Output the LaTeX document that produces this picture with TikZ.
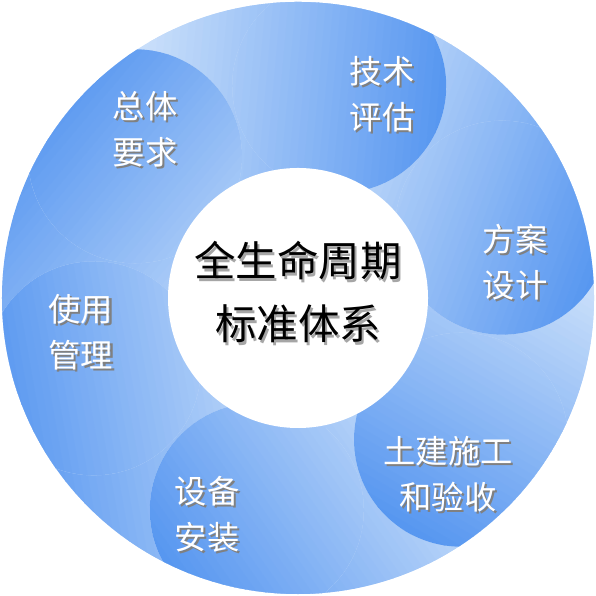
\documentclass[tikz,border=0pt]{standalone}
\usepackage{fontspec}
\newfontfamily\cjk{Noto Sans CJK SC}
\definecolor{swirldark}{RGB}{86,150,240}
\definecolor{swirllight}{RGB}{200,222,250}
\newcommand\shadowed[2]{\makebox[0pt][l]{\kern0.6pt\raisebox{-0.6pt}{\textcolor{#1}{#2}}}#2}
% strips of colour along direction #1, dark end at u=#2
\newcommand\swirlstrips[2]{%
  \begin{scope}[rotate=#1]
    \fill[swirllight] (-7,-7) rectangle (7,7);
    \foreach \k in {0,...,39}{
      \pgfmathsetmacro\ua{#2-3+\k*0.075}
      \pgfmathsetmacro\pct{(\k+0.5)*2.5}
      \fill[swirldark!\pct!swirllight] (\ua,-7) rectangle ({\ua+0.08},7);
    }
    \fill[swirldark] ({#2},-7) rectangle (7,7);
  \end{scope}}
\tikzset{
  hub/.style={circle,fill=white,minimum size=2.6cm,inner sep=0pt},
  title/.style={align=center,font=\cjk\fontsize{11.8}{17.9}\selectfont},
  tag/.style={align=center,text=white,font=\cjk\fontsize{9.2}{13.1}\selectfont}
}
\begin{document}
\begin{tikzpicture}
  \useasboundingbox (-2.98,-2.98) rectangle (2.98,2.98);
  \begin{scope}
    \clip (0,0) circle (2.96);
    % tails
    \foreach \th/\ph in {19/-20,79/-5,139/140,199/190,259/215,319/240}{
      \begin{scope}
        \clip ({\th-4}:1.1) arc[start angle=\th-4,end angle=\th+60,radius=1.1]
          -- ({\th+60}:3.1) arc[start angle=\th+60,end angle=\th-4,radius=3.1] -- cycle;
        \swirlstrips{\ph}{2.16*cos(\th-\ph)+1.07}
      \end{scope}
    }
    % heads
    \foreach \th/\ph in {19/-20,79/-5,139/140,199/190,259/215,319/240}{
      \begin{scope}
        \clip (\th:2.16) circle (1.07);
        \swirlstrips{\ph}{2.16*cos(\th-\ph)+1.07}
      \end{scope}
    }
  \end{scope}
  \node[hub] (core) at (0,0) {};
  \node[title] (system) at (0,0.045) {\shadowed{black!35}{全生命周期}\\\shadowed{black!35}{标准体系}};
  \node[tag] (general) at (-1.53,1.68) {\shadowed{black!50}{总体}\\\shadowed{black!50}{要求}};
  \node[tag] (assess) at (0.84,2.03) {\shadowed{black!50}{技术}\\\shadowed{black!50}{评估}};
  \node[tag] (design) at (2.17,0.35) {\shadowed{black!50}{方案}\\\shadowed{black!50}{设计}};
  \node[tag] (build) at (1.50,-1.77) {\shadowed{black!50}{土建施工}\\\shadowed{black!50}{和验收}};
  \node[tag] (install) at (-0.91,-2.17) {\shadowed{black!50}{设备}\\\shadowed{black!50}{安装}};
  \node[tag] (usage) at (-2.17,-0.35) {\shadowed{black!50}{使用}\\\shadowed{black!50}{管理}};
\end{tikzpicture}
\end{document}
